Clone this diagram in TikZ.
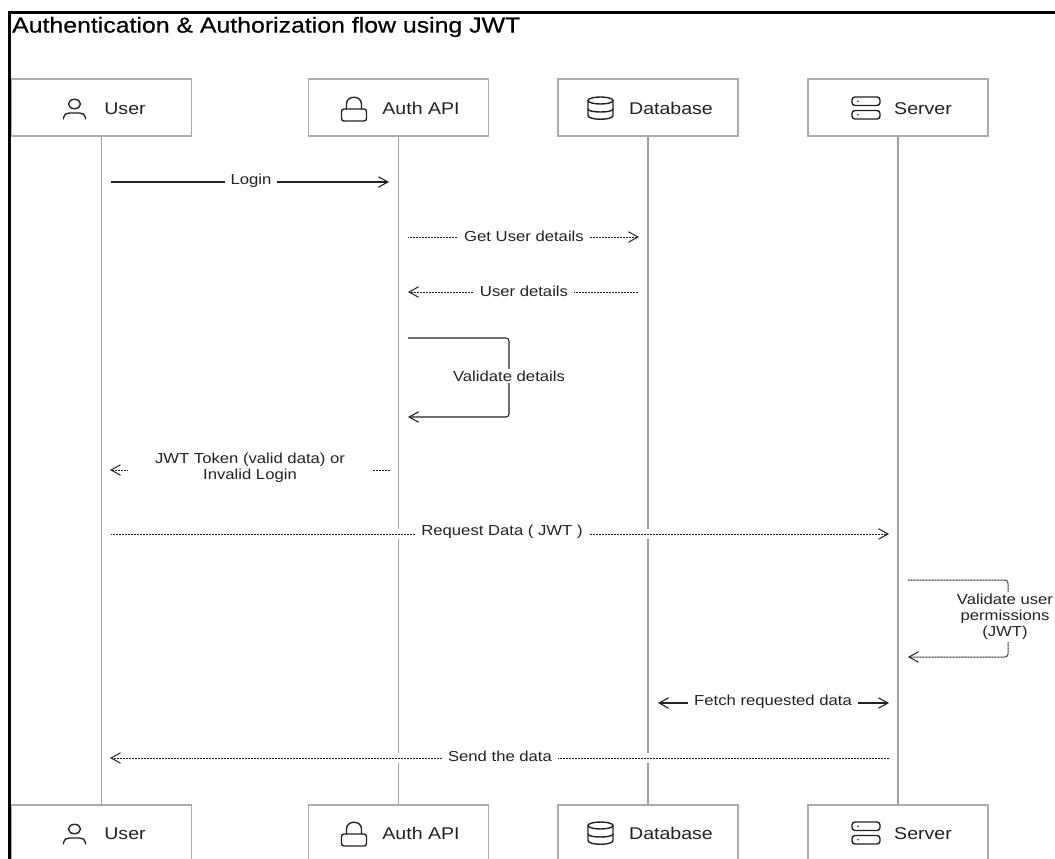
\documentclass[tikz,border=0pt]{standalone}
\usepackage{fontspec}
\setmainfont[FakeStretch=1.15]{Liberation Sans}
\newfontfamily\titlefont[FakeStretch=1.15,FakeBold=0.5]{Liberation Sans}
\usetikzlibrary{arrows.meta}
\definecolor{inkline}{HTML}{222222}
\definecolor{boxline}{HTML}{ABABAB}
\definecolor{lifeline}{HTML}{A0A0A0}
\tikzset{
  actorbox/.style={draw=boxline, line width=1.4pt, fill=white, minimum width=180pt, minimum height=57pt, inner sep=0pt},
  actorname/.style={anchor=base, text=inkline, font=\fontsize{17}{19}\selectfont, inner sep=0pt},
  lifelinepath/.style={draw=lifeline, line width=1.9pt},
  msg/.style={draw=inkline, line width=1.1pt, -{Straight Barb[length=9.5pt,width=10.5pt]}},
  dotmsg/.style={msg, line width=1pt, dash pattern=on 1pt off 0.5pt},
  halo/.style={preaction={draw=white, line width=10pt, solid, -}},
  msglabel/.style={fill=white, text=inkline, font=\fontsize{14.5}{16}\selectfont, inner xsep=6pt, inner ysep=2pt, align=center},
  icon/.style={draw=inkline, line width=1.4pt, line cap=round},
  personicon/.pic={
    \draw [icon] (0,-4) ellipse (6 and 4.7);
    \draw [icon] (-11,11) -- (-11,9.5) .. controls (-11,6.5) and (-8,5) .. (-5,5) -- (5,5) .. controls (8,5) and (11,6.5) .. (11,9.5) -- (11,11);
  },
  lockicon/.pic={
    \draw [icon, rounded corners=2.5pt] (-12.5,1) rectangle (12.5,13);
    \draw [icon] (-7.5,1) -- (-7.5,-4) .. controls (-7.5,-13) and (7.5,-13) .. (7.5,-4) -- (7.5,1);
  },
  dbicon/.pic={
    \draw [icon] (0,-7.5) ellipse (12.5 and 3.5);
    \draw [icon] (-12.5,-7.5) -- (-12.5,7.5) .. controls (-12.5,12.5) and (12.5,12.5) .. (12.5,7.5) -- (12.5,-7.5);
    \draw [icon] (-12.5,1) .. controls (-12.5,5) and (12.5,5) .. (12.5,1);
  },
  servericon/.pic={
    \draw [icon, rounded corners=3pt] (-14,-11) rectangle (14,-2.5);
    \draw [icon, rounded corners=3pt] (-14,2.5) rectangle (14,11);
    \fill [inkline] (-8,-6.7) circle (0.9);
    \fill [inkline] (-8,6.7) circle (0.9);
  },
}
\begin{document}
\begin{tikzpicture}[x=1pt, y=-1pt]
\useasboundingbox (0,0) rectangle (1055,859);
\clip (0,0) rectangle (1055,859);

% top row
\node [actorbox] (userTop) at (101.5,107.5) {};
\node [actorbox] (authTop) at (398.5,107.5) {};
\node [actorbox] (dbTop) at (648,107.5) {};
\node [actorbox] (serverTop) at (898,107.5) {};
% bottom row
\node [actorbox] (userBot) at (101.5,833.5) {};
\node [actorbox] (authBot) at (398.5,833.5) {};
\node [actorbox] (dbBot) at (648,833.5) {};
\node [actorbox] (serverBot) at (898,833.5) {};

\draw [lifelinepath] (userTop) -- (userBot);
\draw [lifelinepath] (authTop) -- (authBot);
\draw [lifelinepath] (dbTop) -- (dbBot);
\draw [lifelinepath] (serverTop) -- (serverBot);

% frame
\draw [black, line width=3pt] (9.5,859) -- (9.5,12.5) -- (1055,12.5);
\node [anchor=west, text=black, inner sep=0pt, font=\titlefont\fontsize{21.6}{24}\selectfont] (title) at (12,27) {Authentication \& Authorization flow using JWT};

% names and icons
\pic at (74.5,108) {personicon};
\node [actorname] (userName) at (125,114) {User};
\pic at (354,108) {lockicon};
\node [actorname] (authName) at (421,114) {Auth API};
\pic at (600.5,108) {dbicon};
\node [actorname] (dbName) at (671,114) {Database};
\pic at (866,108) {servericon};
\node [actorname] (serverName) at (923,114) {Server};

\pic at (74.5,833) {personicon};
\node [actorname] (userNameB) at (125,839) {User};
\pic at (354,833) {lockicon};
\node [actorname] (authNameB) at (421,839) {Auth API};
\pic at (600.5,833) {dbicon};
\node [actorname] (dbNameB) at (671,839) {Database};
\pic at (866,833) {servericon};
\node [actorname] (serverNameB) at (923,839) {Server};

% message ends
\coordinate (loginA) at (111,182);
\coordinate (loginB) at (389,182);
\coordinate (getA) at (408,237);
\coordinate (getB) at (639,237);
\coordinate (detA) at (638,292);
\coordinate (detB) at (408,292);
\coordinate (valA) at (408,338);
\coordinate (valC) at (509,338);
\coordinate (valD) at (509,417);
\coordinate (valB) at (408,417);
\coordinate (jwtA) at (390,470);
\coordinate (jwtB) at (110,470);
\coordinate (reqA) at (111,534);
\coordinate (reqB) at (889,534);
\coordinate (permA) at (908,580);
\coordinate (permC) at (1008,580);
\coordinate (permD) at (1008,657);
\coordinate (permB) at (908,657);
\coordinate (fetchA) at (658,703);
\coordinate (fetchB) at (889,703);
\coordinate (sendA) at (889,758);
\coordinate (sendB) at (110,758);

\draw [msg] (loginA) -- (loginB);
\node [msglabel] (loginLabel) at (251,181) {Login};
\draw [dotmsg] (getA) -- (getB);
\node [msglabel] (getLabel) at (524,236) {Get User details};
\draw [dotmsg] (detA) -- (detB);
\node [msglabel] (detLabel) at (524,291) {User details};
\draw [msg, rounded corners=3pt] (valA) -- (valC) -- (valD) -- (valB);
\node [msglabel] (valLabel) at (509,376) {Validate details};
\draw [dotmsg] (jwtA) -- (jwtB);
\node [msglabel, minimum width=245pt] (jwtLabel) at (250,468) {JWT Token (valid data) or\\Invalid Login};
\draw [dotmsg, halo] (reqA) -- (reqB);
\node [msglabel] (reqLabel) at (502,532) {Request Data ( JWT )};
\draw [dotmsg, rounded corners=3pt] (permA) -- (permC) -- (permD) -- (permB);
\node [msglabel, inner xsep=0pt] (permLabel) at (1005,617) {Validate user\\permissions\\(JWT)};
\draw [msg, {Straight Barb[length=9.5pt,width=10.5pt]}-{Straight Barb[length=9.5pt,width=10.5pt]}] (fetchA) -- (fetchB);
\node [msglabel] (fetchLabel) at (773,702) {Fetch requested data};
\draw [dotmsg, halo] (sendA) -- (sendB);
\node [msglabel] (sendLabel) at (500,756) {Send the data};
\end{tikzpicture}
\end{document}
